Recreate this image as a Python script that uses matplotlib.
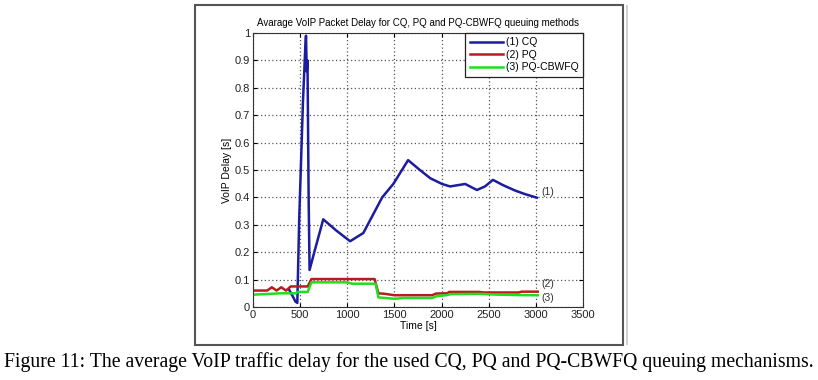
import matplotlib
matplotlib.use('Agg')
import matplotlib.pyplot as plt
from matplotlib.patches import Rectangle

# CQ (blue) delay curve
cq_t = [380, 420, 450, 470, 490, 530, 555, 562, 570, 578, 590, 600, 650, 745,
        880, 1030, 1170, 1370, 1490, 1645, 1770, 1880, 2005, 2090, 2250,
        2375, 2460, 2545, 2650, 2780, 2885, 3010]
cq_d = [0.065, 0.04, 0.02, 0.015, 0.32, 0.75, 0.95, 0.99, 0.86, 0.9, 0.4, 0.135,
        0.2, 0.32, 0.28, 0.24, 0.27, 0.40, 0.45, 0.536, 0.50, 0.47, 0.449,
        0.44, 0.449, 0.427, 0.44, 0.464, 0.445, 0.425, 0.412, 0.399]

# PQ (red)
pq_t = [0, 150, 200, 250, 300, 350, 400, 580, 620, 1290, 1330, 1400, 1500,
        1900, 1940, 2060, 2080, 2400, 2450, 2820, 2850, 3020]
pq_d = [0.06, 0.06, 0.072, 0.06, 0.072, 0.06, 0.075, 0.075, 0.102, 0.102,
        0.05, 0.048, 0.043, 0.043, 0.049, 0.05, 0.055, 0.055, 0.053, 0.053,
        0.056, 0.056]

# PQ-CBWFQ (green)
cbwfq_t = [0, 300, 450, 480, 580, 620, 1000, 1050, 1300, 1330, 1400, 1500,
           1600, 1900, 1950, 2050, 2100, 2400, 2600, 2900, 3020]
cbwfq_d = [0.045, 0.05, 0.05, 0.055, 0.055, 0.09, 0.09, 0.085, 0.085, 0.035,
           0.033, 0.03, 0.033, 0.033, 0.04, 0.043, 0.047, 0.048, 0.045,
           0.043, 0.043]

labels = ['(1) CQ', '(2) PQ', '(3) PQ-CBWFQ']
colors = ['#1c1c9e', '#b81c1c', '#1ede1e']

plt.rcParams['font.family'] = ['Liberation Sans', 'DejaVu Sans']

fig = plt.figure(figsize=(8.18, 3.8), dpi=100)

# picture frame around the chart
fig.patches.append(Rectangle((195 / 818, 1 - 345 / 380), 428 / 818, 340 / 380,
                             transform=fig.transFigure, fill=False,
                             edgecolor='#555555', linewidth=1.5))
fig.patches.append(Rectangle((626 / 818, 1 - 345 / 380), 2 / 818, 340 / 380,
                             transform=fig.transFigure, facecolor='#d0d0d0',
                             edgecolor='none'))

ax = fig.add_axes([253 / 818, 1 - 307 / 380, 330 / 818, 274 / 380])

ax.plot(cq_t, cq_d, color=colors[0], linewidth=1.8, label=labels[0])
ax.plot(pq_t, pq_d, color=colors[1], linewidth=1.8, label=labels[1])
ax.plot(cbwfq_t, cbwfq_d, color=colors[2], linewidth=1.8, label=labels[2])

ax.text(3060, 0.42, '(1)', fontsize=7.5, va='center', color='#333333')
ax.text(3060, 0.085, '(2)', fontsize=7.5, va='center', color='#333333')
ax.text(3060, 0.034, '(3)', fontsize=7.5, va='center', color='#333333')

ax.set_xlim(0, 3500)
ax.set_ylim(0, 1)
ax.set_xticks(range(0, 3501, 500))
ax.set_yticks([i / 10 for i in range(11)])
ax.set_yticklabels(['0'] + [f'{i / 10:.1f}' for i in range(1, 10)] + ['1'])
ax.tick_params(direction='in', labelsize=8, length=3, top=True, right=True,
               pad=2, labelcolor='#222222')
ax.grid(True, linestyle=(0, (1, 2)), color='#555555', linewidth=0.9)
for s in ax.spines.values():
    s.set_linewidth(0.8)
    s.set_color('#333333')

ax.set_title('Avarage VoIP Packet Delay for CQ, PQ and PQ-CBWFQ queuing methods',
             fontsize=7, pad=5)
ax.set_xlabel('Time [s]', fontsize=7.5, labelpad=1)
ax.set_ylabel('VoIP Delay [s]', fontsize=7.5, labelpad=2)

leg = ax.legend(loc='upper right', fontsize=7.5, frameon=True, fancybox=False,
                handlelength=3.2, borderaxespad=0, labelspacing=0.25,
                handletextpad=0.3, borderpad=0.4, framealpha=1)
leg.get_frame().set_edgecolor('#222222')
leg.get_frame().set_linewidth(0.9)

fig.text(0.5, 1 - 362 / 380,
         'Figure 11: The average VoIP traffic delay for the used CQ, PQ and '
         'PQ-CBWFQ queuing mechanisms.',
         ha='center', va='center', fontsize=14.2, family='Liberation Serif')

fig.savefig('out.png', dpi=100)
